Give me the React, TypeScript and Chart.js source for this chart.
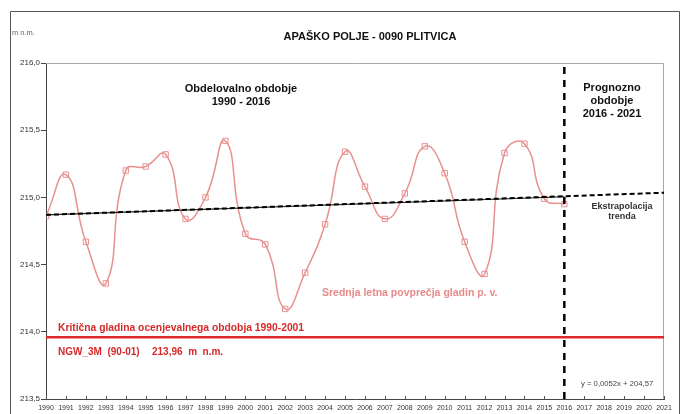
import React, { useEffect, useRef } from "react";
import { Chart, registerables } from "chart.js";

Chart.register(...registerables);

const years = [1990, 1991, 1992, 1993, 1994, 1995, 1996, 1997, 1998, 1999, 2000, 2001, 2002, 2003, 2004, 2005, 2006, 2007, 2008, 2009, 2010, 2011, 2012, 2013, 2014, 2015, 2016];
const levels = [214.86, 215.17, 214.67, 214.36, 215.2, 215.23, 215.32, 214.84, 215.0, 215.42, 214.73, 214.65, 214.17, 214.44, 214.8, 215.34, 215.08, 214.84, 215.03, 215.38, 215.18, 214.67, 214.43, 215.33, 215.4, 214.99, 214.95];
const trendYears = [1990, 2021];
const trendLevels = [214.87, 215.035];
const trendFitYears = [1990, 2016];
const trendFitLevels = [214.87, 215.005];
const criticalYears = [1990, 2021];
const criticalLevel = 213.96;
const forecastStart = 2016;
const yRange = [213.5, 216.0];
const xRange = [1990, 2021];

const FONT = "'Liberation Sans', Arial, sans-serif";

const decorPlugin = {
  id: "decor",
  beforeDraw(chart: any) {
    const { ctx, width, height } = chart;
    ctx.save();
    ctx.fillStyle = "#ffffff";
    ctx.fillRect(0, 0, width, height);
    ctx.strokeStyle = "#555";
    ctx.lineWidth = 1;
    ctx.beginPath();
    ctx.moveTo(10.5, height + 2);
    ctx.lineTo(10.5, 11.5);
    ctx.lineTo(679.5, 11.5);
    ctx.lineTo(679.5, height + 2);
    ctx.stroke();
    ctx.restore();
  },
  beforeDatasetsDraw(chart: any) {
    const { ctx, chartArea: a, scales } = chart;
    ctx.save();
    ctx.strokeStyle = "#a8a8a8";
    ctx.lineWidth = 1;
    ctx.beginPath();
    ctx.moveTo(a.left, a.top + 0.5);
    ctx.lineTo(a.right - 0.5, a.top + 0.5);
    ctx.lineTo(a.right - 0.5, a.bottom);
    ctx.stroke();
    // inward x ticks
    ctx.strokeStyle = "#555";
    ctx.beginPath();
    for (let yv = xRange[0]; yv <= xRange[1]; yv++) {
      const x = Math.round(scales.x.getPixelForValue(yv)) + 0.5;
      ctx.moveTo(x, a.bottom);
      ctx.lineTo(x, a.bottom - 3);
    }
    ctx.stroke();
    ctx.restore();
  },
  afterDraw(chart: any) {
    const { ctx } = chart;
    ctx.save();
    ctx.textBaseline = "middle";
    // y unit
    ctx.fillStyle = "#666";
    ctx.font = `7.5px ${FONT}`;
    ctx.textAlign = "left";
    ctx.fillText("m n.m.", 12, 33);
    // title
    ctx.fillStyle = "#111";
    ctx.font = `bold 11px ${FONT}`;
    ctx.textAlign = "center";
    ctx.fillText("APAŠKO POLJE - 0090 PLITVICA", 370, 37);
    // period labels
    ctx.font = `bold 11px ${FONT}`;
    ctx.fillText("Obdelovalno obdobje", 241, 89);
    ctx.fillText("1990 - 2016", 241, 102);
    ctx.fillText("Prognozno", 612, 88);
    ctx.fillText("obdobje", 612, 101);
    ctx.fillText("2016 - 2021", 612, 114);
    // extrapolation
    ctx.fillStyle = "#333";
    ctx.font = `bold 9px ${FONT}`;
    ctx.fillText("Ekstrapolacija", 622, 206.5);
    ctx.fillText("trenda", 622, 217);
    // series label
    ctx.textAlign = "left";
    ctx.fillStyle = "#e68a8a";
    ctx.font = `bold 10.5px ${FONT}`;
    ctx.fillText("Srednja letna povprečja gladin p. v.", 322, 293);
    // critical labels
    ctx.fillStyle = "#d42a2a";
    ctx.font = `bold 10.3px ${FONT}`;
    ctx.fillText("Kritična gladina ocenjevalnega obdobja 1990-2001", 58, 328);
    ctx.font = `bold 10px ${FONT}`;
    ctx.fillText("NGW_3M  (90-01)", 58, 352);
    ctx.fillText("213,96  m  n.m.", 152, 352);
    // equation
    ctx.fillStyle = "#444";
    ctx.font = `7.7px ${FONT}`;
    ctx.fillText("y = 0,0052x + 204,57", 581, 384);
    ctx.restore();
  },
};

export default function App() {
  const ref = useRef<HTMLCanvasElement | null>(null);
  useEffect(() => {
    if (!ref.current) return;
    const chart = new Chart(ref.current, {
      type: "line",
      data: {
        datasets: [
          {
            label: "vertical",
            data: [
              { x: forecastStart, y: yRange[0] },
              { x: forecastStart, y: yRange[1] },
            ],
            borderColor: "#000",
            borderWidth: 2.5,
            borderDash: [7, 6],
            pointRadius: 0,
            order: 0,
          },
          {
            label: "trend-dash",
            data: trendYears.map((x, i) => ({ x, y: trendLevels[i] })),
            borderColor: "#000",
            borderWidth: 2,
            borderDash: [5, 3],
            pointRadius: 0,
            order: 1,
          },
          {
            label: "trend-fit",
            data: trendFitYears.map((x, i) => ({ x, y: trendFitLevels[i] })),
            borderColor: "#222",
            borderWidth: 1.2,
            pointRadius: 0,
            order: 2,
          },
          {
            label: "series",
            data: years.map((x, i) => ({ x, y: levels[i] })),
            borderColor: "#e8908e",
            borderWidth: 1.5,
            tension: 0.5,
            pointStyle: "rect",
            pointRadius: 3.8,
            pointBorderWidth: 1,
            pointBorderColor: "#e8908e",
            pointBackgroundColor: "rgba(255,255,255,0)",
            order: 3,
          },
          {
            label: "critical",
            data: criticalYears.map((x) => ({ x, y: criticalLevel })),
            borderColor: "#e02828",
            borderWidth: 2.5,
            pointRadius: 0,
            order: 4,
          },
        ],
      },
      options: {
        responsive: false,
        animation: false,
        devicePixelRatio: 1,
        layout: { padding: { top: 63, right: 20, left: 0, bottom: 0 } },
        plugins: { legend: { display: false }, tooltip: { enabled: false }, title: { display: false } },
        scales: {
          x: {
            type: "linear",
            min: xRange[0],
            max: xRange[1],
            afterFit: (s: any) => {
              s.height = 15;
            },
            ticks: {
              stepSize: 1,
              autoSkip: false,
              maxRotation: 0,
              minRotation: 0,
              padding: 5,
              color: "#333",
              font: { family: FONT, size: 7 },
              callback: (v: any) => String(v),
            },
            grid: { display: true, drawOnChartArea: false, drawTicks: false },
            border: { display: true, color: "#444", width: 1 },
          },
          y: {
            type: "linear",
            min: yRange[0],
            max: yRange[1],
            afterFit: (s: any) => {
              s.width = 46;
            },
            ticks: {
              stepSize: 0.5,
              padding: 1,
              color: "#333",
              font: { family: FONT, size: 8 },
              callback: (v: any) => Number(v).toFixed(1).replace(".", ","),
            },
            grid: { display: true, drawOnChartArea: false, drawTicks: true, tickLength: 5, color: "#444" },
            border: { display: true, color: "#444", width: 1 },
          },
        },
      },
      plugins: [decorPlugin],
    });
    return () => chart.destroy();
  }, []);
  return (
    <div style={{ position: "absolute", left: 0, top: 0, width: 684, height: 414, background: "#fff" }}>
      <canvas ref={ref} width={684} height={414} style={{ display: "block" }} />
    </div>
  );
}
